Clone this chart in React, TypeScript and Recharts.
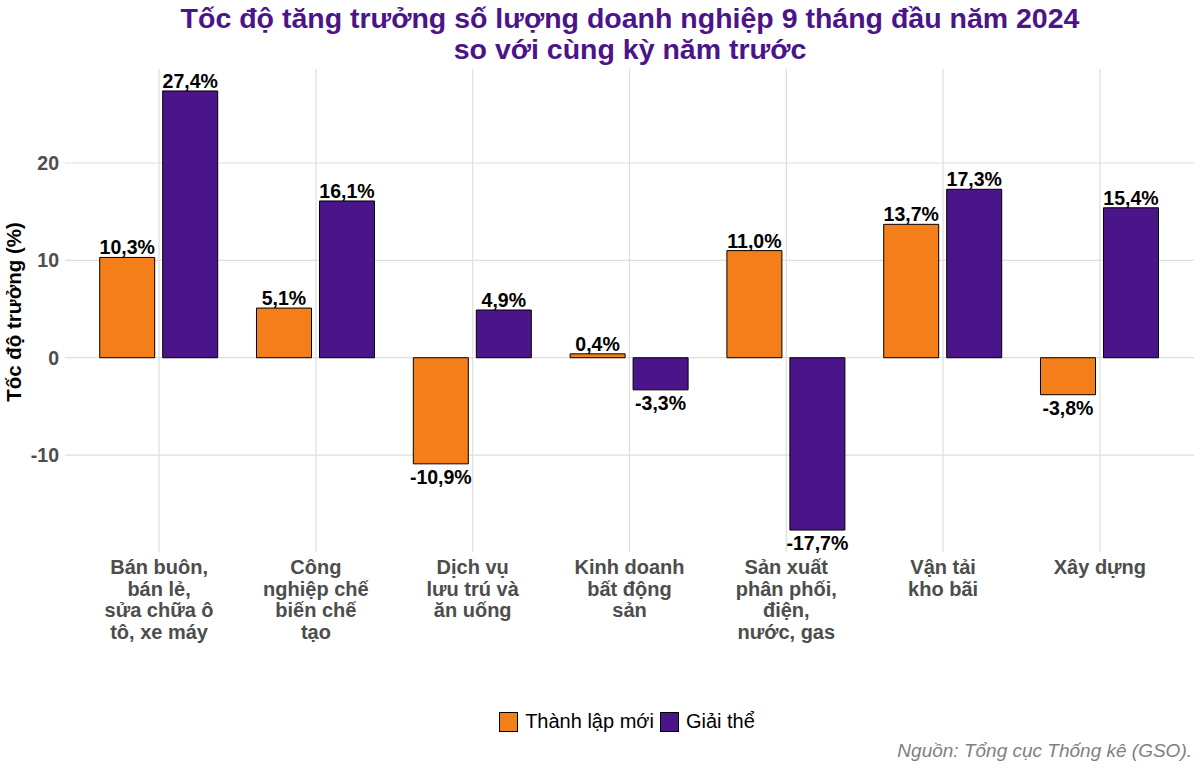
import React from 'react';
import { BarChart, Bar, XAxis, YAxis, CartesianGrid, LabelList } from 'recharts';

const categories = [
  ['Bán buôn,', 'bán lẻ,', 'sửa chữa ô', 'tô, xe máy'],
  ['Công', 'nghiệp chế', 'biến chế', 'tạo'],
  ['Dịch vụ', 'lưu trú và', 'ăn uống'],
  ['Kinh doanh', 'bất động', 'sản'],
  ['Sản xuất', 'phân phối,', 'điện,', 'nước, gas'],
  ['Vận tải', 'kho bãi'],
  ['Xây dựng'],
];
const thanhLapMoi = [10.3, 5.1, -10.9, 0.4, 11.0, 13.7, -3.8];
const giaiThe = [27.4, 16.1, 4.9, -3.3, -17.7, 17.3, 15.4];
const yTicks = [-10, 0, 10, 20];

const ORANGE = '#F47F1A';
const PURPLE = '#4B1589';
const FONT = '"Liberation Sans", Arial, sans-serif';

const data = categories.map((lines, i) => ({
  name: lines.join(' '),
  thanhLap: thanhLapMoi[i],
  giaiThe: giaiThe[i],
}));

const fmt = (v: number) => v.toFixed(1).replace('.', ',') + '%';

const CategoryTick = (props: any) => {
  const { x, y, index } = props;
  const lines = categories[index] || [];
  return (
    <text x={x} y={y} textAnchor="middle" fill="#4D4D4D" fontSize={20} fontWeight="bold" fontFamily={FONT}>
      {lines.map((l, i) => (
        <tspan key={i} x={x} dy={i === 0 ? 22 : 21.7}>{l}</tspan>
      ))}
    </text>
  );
};

const ValueLabel = (props: any) => {
  const { x, y, width, height, value } = props;
  const top = Math.min(y, y + height);
  const bottom = Math.max(y, y + height);
  const ty = value >= 0 ? top - 3 : bottom + 20;
  return (
    <text x={x + width / 2} y={ty} textAnchor="middle" fill="#000" fontSize={19.5} fontWeight="bold" fontFamily={FONT}>
      {fmt(value)}
    </text>
  );
};

const YLabel = () => (
  <text x={21} y={312} transform="rotate(-90 21 312)" textAnchor="middle" fill="#000" fontSize={20.5} fontWeight="bold" fontFamily={FONT}>
    Tốc độ trưởng (%)
  </text>
);

export default function App() {
  return (
    <div style={{ position: 'absolute', left: 0, top: 0, width: 1200, height: 771, background: '#fff', fontFamily: FONT }}>
      <div style={{ position: 'absolute', left: 60, width: 1140, top: 3, textAlign: 'center', color: PURPLE, fontWeight: 'bold', fontSize: 28.5, lineHeight: '31px' }}>
        Tốc độ tăng trưởng số lượng doanh nghiệp 9 tháng đầu năm 2024
        <br />
        so với cùng kỳ năm trước
      </div>
      <BarChart
        width={1200}
        height={771}
        data={data}
        margin={{ top: 69, right: 6, left: 0, bottom: 0 }}
        barSize={55}
        barGap={8}
      >
        <CartesianGrid stroke="#DEDEDE" strokeWidth={1.2} syncWithTicks />
        <XAxis
          dataKey="name"
          height={219}
          tickLine={false}
          axisLine={false}
          tickSize={0}
          tickMargin={0}
          interval={0}
          padding={{ left: 15.7, right: 15.7 }}
          tick={<CategoryTick />}
        />
        <YAxis
          width={65}
          domain={[-19.955, 29.655]}
          ticks={yTicks}
          tickLine={false}
          axisLine={false}
          tickSize={0}
          tickMargin={6}
          tick={{ fill: '#4D4D4D', fontSize: 19.5, fontWeight: 'bold', fontFamily: FONT }}
          label={<YLabel />}
        />
        <Bar dataKey="thanhLap" fill={ORANGE} stroke="#000" strokeWidth={1} isAnimationActive={false}>
          <LabelList dataKey="thanhLap" content={<ValueLabel />} />
        </Bar>
        <Bar dataKey="giaiThe" fill={PURPLE} stroke="#000" strokeWidth={1} isAnimationActive={false}>
          <LabelList dataKey="giaiThe" content={<ValueLabel />} />
        </Bar>
      </BarChart>
      <div style={{ position: 'absolute', left: 0, width: 1254, top: 710, display: 'flex', justifyContent: 'center', alignItems: 'center', fontSize: 20, color: '#000' }}>
        <span style={{ display: 'inline-block', width: 17, height: 18, background: ORANGE, border: '1px solid #000', marginRight: 7 }} />
        <span style={{ marginRight: 6 }}>Thành lập mới</span>
        <span style={{ display: 'inline-block', width: 17, height: 18, background: PURPLE, border: '1px solid #000', marginRight: 7 }} />
        <span>Giải thể</span>
      </div>
      <div style={{ position: 'absolute', right: 8, top: 740, fontStyle: 'italic', fontSize: 19, color: '#7F7F7F' }}>
        Nguồn: Tổng cục Thống kê (GSO).
      </div>
    </div>
  );
}
